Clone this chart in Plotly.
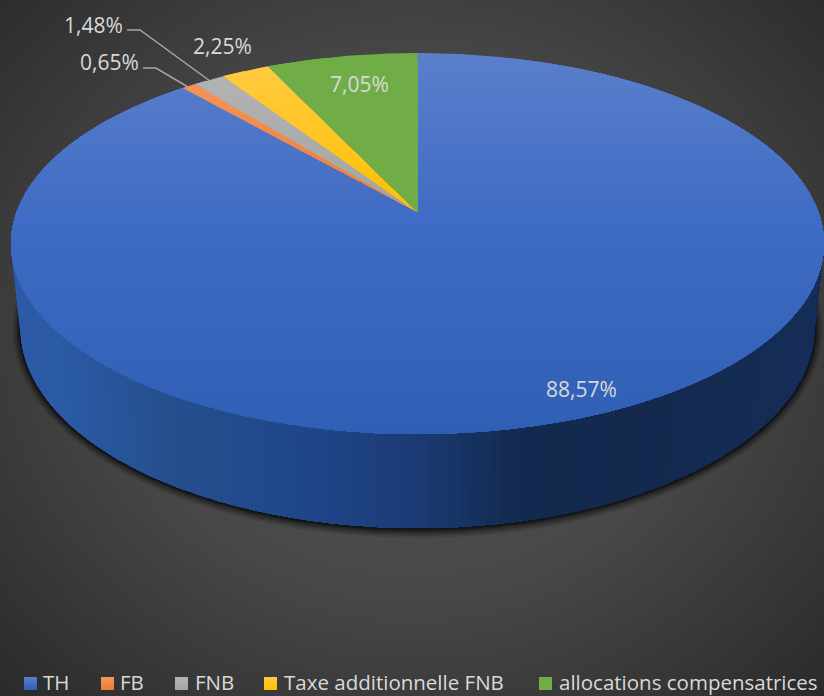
import numpy as np
import plotly.graph_objects as go

# ---------- data ----------
categories = ["TH", "FB", "FNB", "Taxe additionnelle FNB", "allocations compensatrices"]
values = [88.57, 0.65, 1.48, 2.25, 7.05]

# ---------- style ----------
W, H = 824, 696
FONT = "Open Sans"
TEXT = "#d9d9d9"
top_y_knots = [53, 212, 434]
top_colors = {
    "TH": ["#5a7fcb", "#3f6cc4", "#2f5fb4"],
    "FB": ["#f5975f", "#ef7d32", "#ed7d31"],
    "FNB": ["#b4b4b4", "#a5a5a5", "#a5a5a5"],
    "Taxe additionnelle FNB": ["#ffcb45", "#ffc000", "#ffc000"],
    "allocations compensatrices": ["#70ad47", "#70ad47", "#70ad47"],
}
wall_x_knots = [12, 60, 160, 300, 417, 520, 640, 780, 815]
wall_colors = ["#2d5aa8", "#2b5aa6", "#25508f", "#20468a", "#1b3b74", "#132a50", "#13294e", "#152c55", "#152d58"]
legend_x = [30.5, 107.5, 181.5, 270.5, 545.5]
legend_text_x = [42, 119, 194, 283, 558]
legend_y = 683.5
legend_text_y = 681.9
label_pos = [(581, 389), (109, 62), (93, 25), (222, 46), (359, 84)]
leaders = {1: [(143, 68), (156, 68), (188, 87)], 2: [(127, 30), (140, 30), (210, 81)]}

# ---------- projection of the disc ----------
APEX = (417.5, 212.0)
k = 0.1654
A_X, B_Y = 400.9, 185.3
E_CX, E_CY, E_A, E_B = 417.5, 243.5, 406.5, 190.5   # top rim
B_CX, B_CY, B_A, B_B = 417.5, 328.0, 397.0, 200.0   # bottom rim


def hex_rgb(c):
    return np.array([int(c[i:i + 2], 16) for i in (1, 3, 5)], dtype=float)


def ramp(x, knots, cols):
    arr = np.array([hex_rgb(c) for c in cols])
    r = [np.interp(x, knots, arr[:, i]) for i in range(3)]
    return "rgb(%d,%d,%d)" % tuple(int(round(v)) for v in r)


def rim(theta):
    u, v = np.sin(theta), np.cos(theta)
    w = 1 + k * v
    return APEX[0] + A_X * u / w, APEX[1] - B_Y * v / w


def clip_below(poly, y0):
    out = []
    n = len(poly)
    for i in range(n):
        p, q = poly[i], poly[(i + 1) % n]
        pin, qin = p[1] >= y0, q[1] >= y0
        if pin:
            out.append(p)
        if pin != qin:
            t = (y0 - p[1]) / (q[1] - p[1])
            out.append((p[0] + t * (q[0] - p[0]), y0))
    return out


def poly_trace(poly, color, opacity=1.0, name=None):
    xs = [p[0] for p in poly] + [poly[0][0]]
    ys = [p[1] for p in poly] + [poly[0][1]]
    return go.Scatter(x=xs, y=ys, mode="lines", fill="toself", fillcolor=color,
                      line=dict(width=0, color=color), opacity=opacity,
                      hoverinfo="skip", showlegend=False, name=name)


fig = go.Figure()

# background radial gradient
gx = np.linspace(0, W, 60)
gy = np.linspace(0, H, 50)
X, Y = np.meshgrid(gx, gy)
dist = np.sqrt(((X - 412) / 412) ** 2 + ((Y - 330) / 370) ** 2) / 1.41
fig.add_trace(go.Heatmap(x=gx, y=gy, z=dist, zmin=0, zmax=1, zsmooth="best", showscale=False,
                         colorscale=[[0, "#535353"], [0.5, "#484848"], [1, "#2a2a2a"]],
                         hoverinfo="skip"))

# soft shadow under the disc
ts = np.linspace(0, 2 * np.pi, 241)[:-1]
for grow, op in [(9, .10), (7, .14), (5, .18), (3, .25), (1.5, .35)]:
    poly = [(B_CX + (B_A + grow * .9) * np.cos(t), B_CY + 1 + (B_B + grow) * np.sin(t)) for t in ts]
    fig.add_trace(poly_trace(poly, "#000000", op))

# side wall, painted left to right
tw = np.linspace(np.pi, 0, 121)
wall_top = [(E_CX + E_A * np.cos(t), E_CY + E_B * np.sin(t)) for t in tw]
wall_bot = [(B_CX + B_A * np.cos(t), B_CY + B_B * np.sin(t)) for t in tw]
for i in range(0, len(tw) - 1):
    poly = wall_top[i:] + wall_bot[i:][::-1]
    xm = 0.5 * (wall_top[i][0] + wall_top[i + 1][0])
    fig.add_trace(poly_trace(poly, ramp(xm, wall_x_knots, wall_colors)))

# top face slices, clockwise from twelve o'clock
total = sum(values)
start = 0.0
for cat, val in zip(categories, values):
    end = start + val
    ths = np.linspace(start, end, max(4, int(val * 6))) / total * 2 * np.pi
    poly = [APEX] + [rim(t) for t in ths]
    y_lo = min(p[1] for p in poly)
    y_hi = max(p[1] for p in poly)
    for y0 in np.arange(y_lo, y_hi, 5.0):
        clipped = clip_below(poly, y0)
        if len(clipped) >= 3:
            fig.add_trace(poly_trace(clipped, ramp(y0, top_y_knots, top_colors[cat]), name=cat))
    start = end

# leader lines
for pts in leaders.values():
    fig.add_trace(go.Scatter(x=[p[0] for p in pts], y=[p[1] for p in pts], mode="lines",
                             line=dict(color="#a6a6a6", width=1.5), hoverinfo="skip", showlegend=False))

# legend swatches
for cat, lx in zip(categories, legend_x):
    cols = top_colors[cat]
    fig.add_trace(go.Scatter(x=[lx], y=[legend_y], mode="markers", hoverinfo="skip", showlegend=False,
                             marker=dict(symbol="square", size=13, color=cols[0], line=dict(width=0),
                                         gradient=dict(type="vertical", color=cols[-1]))))

annotations = []
for val, (ax, ay) in zip(values, label_pos):
    annotations.append(dict(x=ax, y=ay, text=f"{val:.2f}".replace(".", ",") + "%", showarrow=False,
                            font=dict(family=FONT, size=21, color=TEXT), xanchor="center", yanchor="middle"))
for cat, tx in zip(categories, legend_text_x):
    annotations.append(dict(x=tx, y=legend_text_y, text=cat, showarrow=False, borderpad=0,
                            font=dict(family=FONT, size=20.5, color=TEXT), xanchor="left", yanchor="middle"))

fig.update_layout(
    width=W, height=H, autosize=False, margin=dict(l=0, r=0, t=0, b=0), showlegend=False,
    paper_bgcolor="#3a3a3a", plot_bgcolor="#3a3a3a", annotations=annotations,
    xaxis=dict(range=[0, W], visible=False, fixedrange=True),
    yaxis=dict(range=[H, 0], visible=False, fixedrange=True),
)
fig.write_html("out.html", config={"displayModeBar": False},
               post_script="document.body.style.margin='0';document.documentElement.style.overflow='hidden';")
